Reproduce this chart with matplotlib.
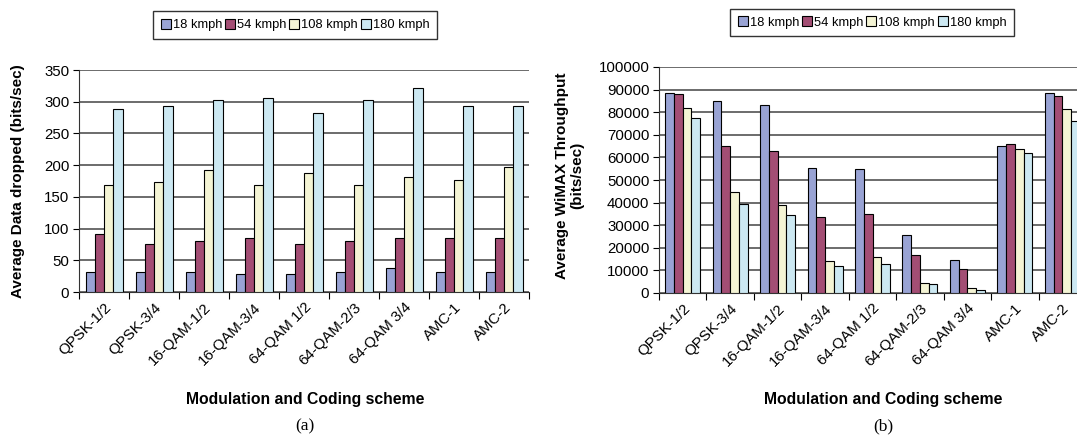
import numpy as np
import matplotlib
matplotlib.use("Agg")
import matplotlib.pyplot as plt

plt.rcParams["font.family"] = ["Liberation Sans", "DejaVu Sans"]

schemes = ["QPSK-1/2", "QPSK-3/4", "16-QAM-1/2", "16-QAM-3/4", "64-QAM 1/2",
           "64-QAM-2/3", "64-QAM 3/4", "AMC-1", "AMC-2"]
speeds = ["18 kmph", "54 kmph", "108 kmph", "180 kmph"]
colors = ["#99a3d4", "#a34e74", "#f4f4d4", "#cce8f2"]

# (a) average data dropped, bits/sec
dropped_18 = [32, 32, 32, 28, 28, 32, 38, 32, 32]
dropped_54 = [91, 76, 80, 85, 76, 80, 85, 85, 85]
dropped_108 = [168, 173, 193, 168, 188, 168, 181, 177, 197]
dropped_180 = [289, 293, 302, 306, 282, 302, 321, 293, 293]

# (b) average WiMAX throughput, bits/sec
thru_18 = [88500, 85000, 83000, 55500, 55000, 25500, 14800, 65200, 88500]
thru_54 = [88000, 65200, 62800, 33500, 34800, 17000, 10500, 65800, 87200]
thru_108 = [82000, 44500, 39000, 14200, 16000, 4500, 2000, 63500, 81200]
thru_180 = [77500, 39500, 34300, 11800, 13000, 3800, 1300, 61800, 76200]

W, H = 1077, 440
fig = plt.figure(figsize=(W / 100, H / 100), dpi=100)


def px_axes(x0, x1, ytop, ybot):
    return fig.add_axes([x0 / W, (H - ybot) / H, (x1 - x0) / W, (ybot - ytop) / H])


def panel(ax, series, ymax, ystep, ylabel):
    x = np.arange(len(schemes))
    bw = 0.185
    for i, (vals, c) in enumerate(zip(series, colors)):
        ax.bar(x + (i - 1.5) * bw, vals, bw, color=c, edgecolor="black",
               linewidth=0.8, label=speeds[i], zorder=3)
    ax.set_xlim(-0.5, len(schemes) - 0.5)
    ax.set_ylim(0, ymax)
    ax.set_yticks(np.arange(0, ymax + 1, ystep))
    ax.yaxis.grid(True, color="#444444", linewidth=1.1, zorder=0)
    ax.set_axisbelow(True)
    for s in ["top", "right"]:
        ax.spines[s].set_visible(False)
    ax.spines["left"].set_color("#333333")
    ax.spines["bottom"].set_color("#333333")
    # category ticks sit between groups
    ax.set_xticks(np.arange(len(schemes) + 1) - 0.5)
    ax.set_xticklabels([])
    ax.set_xticks(x, minor=True)
    ax.set_xticklabels(schemes, minor=True, rotation=45, ha="right",
                       rotation_mode="anchor", fontsize=10.8)
    ax.tick_params(axis="x", which="minor", length=0, pad=6)
    ax.tick_params(axis="x", which="major", length=5, direction="out")
    ax.tick_params(axis="y", length=4, labelsize=10.8, pad=3)
    ax.set_ylabel(ylabel, fontsize=11, fontweight="bold", linespacing=1.1)
    leg = ax.legend(loc="center", ncol=4, fontsize=9.3, frameon=True,
                    fancybox=False, edgecolor="black", handlelength=0.8,
                    handleheight=0.8, handletextpad=0.15, columnspacing=0.2,
                    borderpad=0.6)
    leg.get_frame().set_linewidth(1.0)
    return leg


ax1 = px_axes(79, 529, 70, 292)
leg1 = panel(ax1, [dropped_18, dropped_54, dropped_108, dropped_180], 350, 50,
             "Average Data dropped (bits/sec)")
leg1.set_bbox_to_anchor((295 / W, (H - 25) / H), transform=fig.transFigure)
ax1.yaxis.set_label_coords(-0.12, 0.5)

ax2 = px_axes(659, 1086, 67, 293)
leg2 = panel(ax2, [thru_18, thru_54, thru_108, thru_180], 100000, 10000,
             "Average WiMAX Throughput\n(bits/sec)")
leg2.set_bbox_to_anchor((872 / W, (H - 22.5) / H), transform=fig.transFigure)
ax2.yaxis.set_label_coords(-0.175, 0.52)

for cx, tag in [(305, "(a)"), (883, "(b)")]:
    fig.text(cx / W, (H - 399) / H, "Modulation and Coding scheme",
             ha="center", va="center", fontsize=11.3, fontweight="bold")
    fig.text(cx / W, (H - 426) / H, tag, ha="center", va="center",
             fontsize=12.5, family="Liberation Serif")

fig.savefig("out.png", dpi=100)
